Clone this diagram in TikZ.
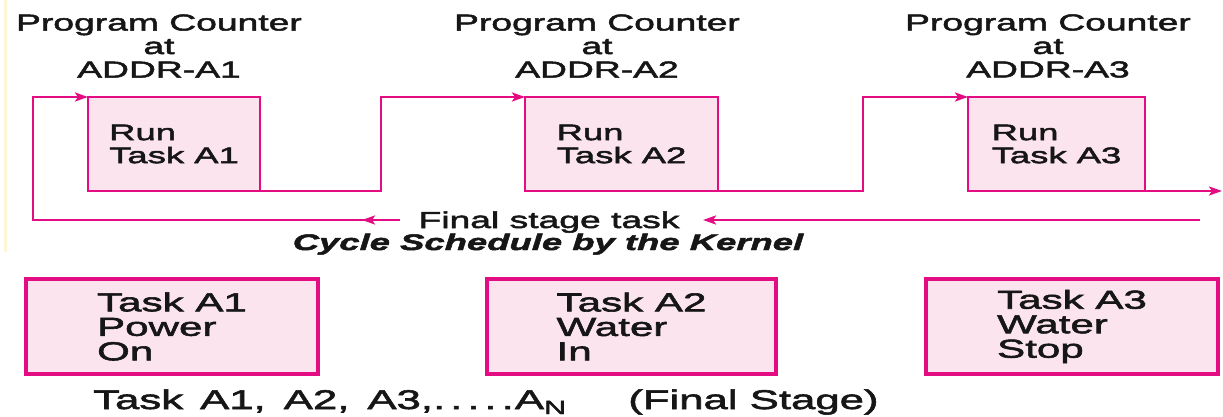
\documentclass[tikz,border=0pt]{standalone}
\usepackage{fontspec}
\setmainfont[FakeStretch=1.62,FakeBold=2.2]{Liberation Sans}
\usetikzlibrary{arrows.meta}
\definecolor{mag}{RGB}{228,12,130}
\definecolor{pinkfill}{RGB}{251,228,238}
\definecolor{ink}{RGB}{22,22,22}
\definecolor{faintyellow}{RGB}{255,246,215}
\tikzset{
  wire/.style={draw=mag, line width=2.8pt},
  tipend/.style={-{Stealth[length=13pt,width=9pt,inset=3pt]}},
  runbox/.style={draw=mag, fill=pinkfill, line width=2.8pt, outer sep=0pt, inner sep=0pt, align=left, text=ink, anchor=north west, minimum height=94pt, font=\fontsize{22.5}{23}\selectfont},
  taskbox/.style={draw=mag, fill=pinkfill, line width=3.2pt, outer sep=0pt, inner sep=0pt, align=left, text=ink, anchor=north west, minimum height=95pt, font=\fontsize{26}{24.5}\selectfont},
  pclabel/.style={align=center, text=ink, inner sep=0pt, font=\fontsize{23}{23.5}\selectfont},
  lbl/.style={text=ink, inner sep=0pt, anchor=base, font=\fontsize{23}{23}\selectfont},
}
\begin{document}
\begin{tikzpicture}[x=1pt,y=-1pt]
\path[use as bounding box, fill=white] (0,0) rectangle (1223,417);
\draw[faintyellow, line width=3pt] (5,0) -- (5,252);

% program counter labels
\node[pclabel] (pc1) at (159,46) {Program Counter\\at\\ADDR-A1};
\node[pclabel] (pc2) at (597,46) {Program Counter\\at\\ADDR-A2};
\node[pclabel] (pc3) at (1048,46) {Program Counter\\at\\ADDR-A3};

% run boxes
\node[runbox, minimum width=172pt] (r1) at (88,97) {Run\\Task A1};
\node[runbox, minimum width=193pt] (r2) at (525,97) {Run\\Task A2};
\node[runbox, minimum width=177pt] (r3) at (968,97) {Run\\Task A3};

% connectors between run boxes
\coordinate (j1b) at (381,191);
\coordinate (j1t) at (381,97);
\coordinate (j2b) at (863,191);
\coordinate (j2t) at (863,97);
\coordinate (out) at (1222,191);
\draw[wire, tipend] (r1.south east) -- (j1b) -- (j1t) -- (r2.north west);
\draw[wire, tipend] (r2.south east) -- (j2b) -- (j2t) -- (r3.north west);
\draw[wire, tipend] (r3.south east) -- (out);

% return loop
\coordinate (rr) at (1200,220);
\coordinate (rtip) at (703,220);
\coordinate (rl) at (400,220);
\coordinate (rmid) at (362,220);
\coordinate (lb) at (33,220);
\coordinate (lt) at (33,97);
\draw[wire, tipend] (rr) -- (rtip);
\draw[wire, tipend] (rl) -- (lb) -- (lt) -- (r1.north west);
\draw[wire, tipend] (rl) -- (rmid);

\node[lbl] (fst) at (549,228) {Final stage task};
\node[lbl, font=\fontsize{22.5}{23}\selectfont\bfseries\itshape] (cyc) at (548,250) {Cycle Schedule by the Kernel};

% task boxes
\node[taskbox, minimum width=292pt] (t1) at (26,279) {Task A1\\Power\\On};
\node[taskbox, minimum width=289pt] (t2) at (487,279) {Task A2\\Water\\In};
\node[taskbox, minimum width=292pt] (t3) at (926,279) {Task A3\\Water\\Stop};

% caption
\node[text=ink, inner sep=0pt, anchor=base west, font=\fontsize{27}{27}\selectfont] (caption) at (93,409)
  {Task\hspace{17pt}A1,\hspace{18pt}A2,\hspace{18pt}A3,.\hspace{5pt}.\hspace{5pt}.\hspace{5pt}.\hspace{5pt}.\hspace{1pt}A\raisebox{-5pt}{\fontsize{19}{19}\selectfont N}\hspace{62pt}(Final Stage)};
\end{tikzpicture}
\end{document}
